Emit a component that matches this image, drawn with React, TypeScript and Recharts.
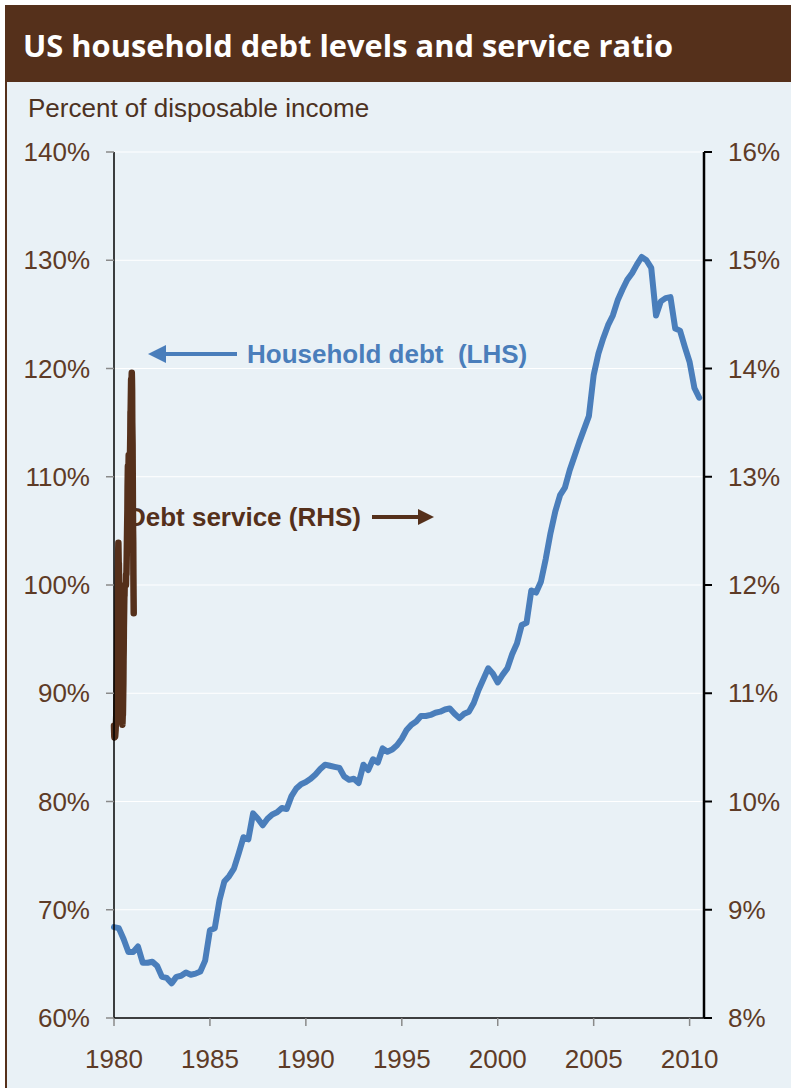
import React from 'react';
import { ComposedChart, Line, XAxis, YAxis, CartesianGrid } from 'recharts';

// Household debt, % of disposable income, quarterly 1980Q1–2010Q3 (LHS)
const householdDebt = [
  68.4, 68.3, 67.3, 66.1, 66.1, 66.6, 65.1, 65.1,
  65.2, 64.8, 63.8, 63.7, 63.2, 63.8, 63.9, 64.2,
  64.0, 64.1, 64.3, 65.3, 68.1, 68.3, 70.9, 72.6,
  73.1, 73.8, 75.2, 76.7, 76.5, 78.9, 78.4, 77.8,
  78.4, 78.8, 79.0, 79.4, 79.3, 80.5, 81.2, 81.6,
  81.8, 82.1, 82.5, 83.0, 83.4, 83.3, 83.2, 83.1,
  82.3, 82.0, 82.1, 81.7, 83.4, 82.9, 83.9, 83.6,
  84.9, 84.6, 84.8, 85.2, 85.8, 86.6, 87.1, 87.4,
  87.9, 87.9, 88.0, 88.2, 88.3, 88.5, 88.6, 88.1,
  87.7, 88.1, 88.3, 89.1, 90.3, 91.3, 92.3, 91.8,
  91.0, 91.7, 92.3, 93.6, 94.6, 96.3, 96.5, 99.5,
  99.3, 100.3, 102.4, 104.8, 106.8, 108.3, 109.0, 110.6,
  111.9, 113.2, 114.4, 115.6, 119.4, 121.4, 122.8, 124.0,
  124.9, 126.3, 127.3, 128.2, 128.8, 129.6, 130.3, 130.0,
  129.3, 124.9, 126.2, 126.5, 126.6, 123.7, 123.5, 122.0,
  120.6, 118.2, 117.3,
];

// Debt service ratio, % of disposable income, quarterly (RHS)
const debtService = [
  10.7, 10.65, 10.6, 10.59, 10.6, 10.62, 10.6, 10.6,
  10.62, 10.64, 10.66, 10.7, 10.72, 10.75, 10.8, 10.9,
  11.0, 11.1, 11.2, 11.3, 11.5, 11.7, 11.9, 12.0,
  12.1, 12.2, 12.3, 12.39, 12.3, 12.2, 12.2, 12.1,
  12.0, 12.0, 12.0, 12.0, 12.0, 12.0, 12.0, 11.9,
  11.9, 11.8, 11.8, 11.7, 11.6, 11.4, 11.3, 11.2,
  11.1, 10.9, 10.8, 10.8, 10.71, 10.75, 10.8, 10.8,
  10.9, 11.0, 11.1, 11.3, 11.4, 11.6, 11.7, 11.8,
  11.9, 11.9, 12.0, 12.0, 12.0, 12.0, 12.0, 12.0,
  12.0, 12.0, 12.0, 12.1, 12.1, 12.1, 12.2, 12.3,
  12.4, 12.5, 12.6, 12.7, 12.9, 13.0, 13.1, 13.1,
  13.1, 13.1, 13.1, 13.2, 13.2, 13.1, 13.0, 13.0,
  13.0, 13.0, 13.1, 13.2, 13.3, 13.4, 13.6, 13.6,
  13.7, 13.8, 13.9, 13.9, 13.9, 13.9, 13.96, 13.9,
  13.8, 13.5, 13.4, 13.3, 13.0, 12.7, 12.5, 12.4,
  12.1, 11.9, 11.74,
];

const yearLabels = ['1980', '1985', '1990', '1995', '2000', '2005', '2010'];
const yearTickQuarters = [0, 20, 40, 60, 80, 100, 120];
const leftTicks = [60, 70, 80, 90, 100, 110, 120, 130, 140];
const rightTicks = [8, 9, 10, 11, 12, 13, 14, 15, 16];

const data = householdDebt.map((d, i) => ({ q: i, debt: d, service: debtService[i] }));

const BLUE = '#4a7ebb';
const BROWN = '#55301b';
const LABEL = '#5e3b26';
const FONT = '"Liberation Sans", Arial, sans-serif';

export default function App() {
  const tickStyle = { fill: LABEL, fontSize: 26, fontFamily: FONT };
  return (
    <div style={{ position: 'absolute', left: 0, top: 0, width: 791, height: 1088, background: '#ffffff', overflow: 'hidden' }}>
      <div style={{ position: 'absolute', left: 5, top: 82, width: 786, height: 1006, background: '#e9f1f6', borderLeft: `2px solid ${BROWN}` }} />
      <svg width={791} height={1088} style={{ position: 'absolute', left: 0, top: 0 }}>
        <rect x={5} y={5} width={786} height={77} fill={BROWN} />
        <text x={23} y={57} fill="#ffffff" fontFamily='"Open Sans", sans-serif' fontWeight={700} fontSize={30} textLength={650} lengthAdjust="spacingAndGlyphs">
          US household debt levels and service ratio
        </text>
        <text x={28} y={117} fill="#4d3222" fontFamily={FONT} fontSize={26}>Percent of disposable income</text>
        <line x1={237} y1={354} x2={162} y2={354} stroke={BLUE} strokeWidth={4} />
        <polygon points="148,354 166,345 166,363" fill={BLUE} />
        <text x={247} y={363} fill={BLUE} fontFamily={FONT} fontWeight={700} fontSize={26} style={{ whiteSpace: 'pre' }}>Household debt  (LHS)</text>
        <text x={361} y={526} textAnchor="end" fill={BROWN} fontFamily={FONT} fontWeight={700} fontSize={26}>Debt service (RHS)</text>
        <line x1={372} y1={517} x2={420} y2={517} stroke={BROWN} strokeWidth={4} />
        <polygon points="434,517 418,509 418,525" fill={BROWN} />
      </svg>
      <div style={{ position: 'absolute', left: 0, top: 0 }}>
        <ComposedChart width={791} height={1088} data={data} margin={{ top: 152, right: 0, bottom: 0, left: 14 }}>
          <CartesianGrid xAxisId="main" yAxisId="left" horizontal vertical={false} stroke="#ffffff" strokeWidth={1.2} />
          <XAxis
            xAxisId="main"
            dataKey="q"
            type="number"
            domain={[0, 123]}
            ticks={yearTickQuarters}
            tickFormatter={(v: number) => yearLabels[yearTickQuarters.indexOf(v)]}
            height={70}
            tickSize={8}
            tickMargin={24}
            axisLine={{ stroke: '#000000', strokeWidth: 1.5 }}
            tickLine={{ stroke: '#8a8a8a', strokeWidth: 1.5 }}
            tick={tickStyle}
            interval={0}
          />
          <XAxis xAxisId="svc" dataKey="q" type="number" domain={[0, 3650]} hide />
          <YAxis
            yAxisId="left"
            domain={[60, 140]}
            ticks={leftTicks}
            tickFormatter={(v: number) => `${v}%`}
            width={100}
            tickSize={8}
            tickMargin={16}
            axisLine={{ stroke: '#000000', strokeWidth: 1.5 }}
            tickLine={{ stroke: '#8a8a8a', strokeWidth: 1.5 }}
            tick={tickStyle}
            interval={0}
          />
          <YAxis
            yAxisId="right"
            orientation="right"
            domain={[8, 16]}
            ticks={rightTicks}
            tickFormatter={(v: number) => `${v}%`}
            width={87}
            tickSize={8}
            tickMargin={16}
            axisLine={{ stroke: '#000000', strokeWidth: 2.5 }}
            tickLine={{ stroke: '#000000', strokeWidth: 2 }}
            tick={tickStyle}
            interval={0}
          />
          <Line
            xAxisId="main"
            yAxisId="left"
            type="linear"
            dataKey="debt"
            stroke={BLUE}
            strokeWidth={6}
            strokeLinejoin="round"
            strokeLinecap="round"
            dot={false}
            isAnimationActive={false}
          />
          <Line
            xAxisId="svc"
            yAxisId="right"
            type="linear"
            dataKey="service"
            stroke={BROWN}
            strokeWidth={6.5}
            strokeLinejoin="round"
            strokeLinecap="round"
            dot={false}
            isAnimationActive={false}
          />
        </ComposedChart>
      </div>
    </div>
  );
}
